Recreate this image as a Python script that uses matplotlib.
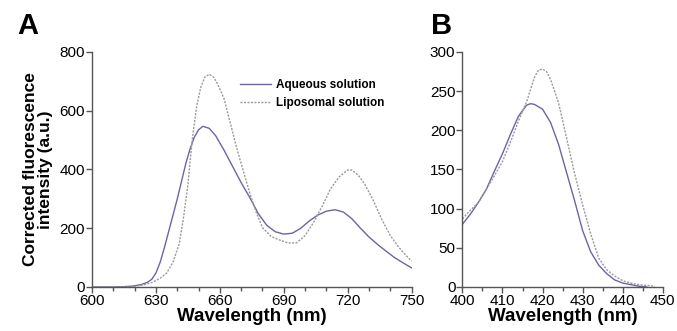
import numpy as np
import matplotlib.pyplot as plt
from matplotlib.ticker import MultipleLocator

plt.rcParams['font.family'] = ['Liberation Sans', 'DejaVu Sans']

# Panel A: emission spectra 600-750 nm
wl_a_aq = [600, 610, 615, 619, 623, 626, 628, 630, 632, 634, 636, 638, 640, 642, 644,
           646, 648, 650, 652, 655, 658, 662, 666, 670, 674, 678, 682, 686, 690, 694,
           698, 702, 706, 710, 714, 718, 722, 726, 730, 734, 738, 742, 746, 750]
aq_a = [0, 0, 1, 3, 8, 16, 26, 48, 85, 135, 190, 245, 300, 360, 420,
        470, 510, 535, 547, 540, 515, 465, 410, 355, 305, 250, 210, 188, 180, 183,
        200, 225, 245, 258, 263, 255, 232, 200, 170, 145, 122, 100, 82, 65]

wl_a_lip = [600, 615, 620, 624, 628, 632, 635, 638, 641, 643, 645, 647, 649, 651, 653,
            655, 657, 659, 662, 665, 668, 671, 674, 677, 680, 684, 688, 692, 696, 700,
            704, 708, 712, 716, 720, 722, 725, 728, 732, 736, 740, 744, 747, 750]
lip_a = [0, 0, 2, 7, 15, 30, 47, 85, 149, 240, 350, 500, 610, 680, 715,
         724, 715, 690, 640, 555, 470, 395, 320, 255, 202, 172, 160, 150, 150, 175,
         220, 275, 335, 375, 398, 398, 380, 350, 295, 230, 175, 135, 110, 88]

# Panel B: emission spectra 400-450 nm
wl_b_aq = [400, 402, 404, 406, 408, 410, 412, 414, 416, 417, 418, 420, 422, 424, 426,
           428, 430, 432, 434, 436, 438, 440, 442, 444, 446]
aq_b = [80, 93, 108, 125, 148, 170, 195, 218, 232, 234, 233, 227, 210, 182, 146,
        110, 72, 45, 28, 17, 9, 5, 3, 1, 0]

wl_b_lip = [400, 402, 404, 406, 408, 410, 412, 414, 416, 418, 419, 420, 421, 422, 424,
            426, 428, 430, 432, 434, 436, 438, 440, 442, 444, 446, 448]
lip_b = [87, 98, 108, 125, 142, 160, 185, 212, 236, 268, 277, 278, 275, 265, 235,
         190, 145, 105, 68, 37, 22, 14, 8, 5, 3, 2, 1]

aq_color = '#6b64a8'
lip_color = '#9a9a9a'
spine_color = '#555555'

fig = plt.figure(figsize=(6.77, 3.31), dpi=100)
axA = fig.add_axes([0.136, 0.133, 0.472, 0.710])
axB = fig.add_axes([0.683, 0.133, 0.296, 0.710])

axA.plot(wl_a_aq, aq_a, color=aq_color, lw=1.0, label='Aqueous solution')
axA.plot(wl_a_lip, lip_a, color=lip_color, lw=1.0, ls=(0, (1.5, 1)), label='Liposomal solution')
axB.plot(wl_b_aq, aq_b, color=aq_color, lw=1.0)
axB.plot(wl_b_lip, lip_b, color=lip_color, lw=1.0, ls=(0, (1.5, 1)))

axA.set_xlim(600, 750)
axA.set_ylim(0, 800)
axA.set_xticks(np.arange(600, 751, 30))
axA.xaxis.set_minor_locator(MultipleLocator(10))
axA.set_yticks(np.arange(0, 801, 200))

axB.set_xlim(400, 450)
axB.set_ylim(0, 300)
axB.set_xticks(np.arange(400, 451, 10))
axB.xaxis.set_minor_locator(MultipleLocator(5))
axB.set_yticks(np.arange(0, 301, 50))

for ax in (axA, axB):
    for s in ('top', 'right'):
        ax.spines[s].set_visible(False)
    for s in ('left', 'bottom'):
        ax.spines[s].set_color(spine_color)
        ax.spines[s].set_linewidth(1.0)
    ax.tick_params(which='major', length=4, width=1, color=spine_color, labelsize=11, pad=1)
    ax.tick_params(which='minor', length=3, width=1, color=spine_color)
    ax.set_xlabel('Wavelength (nm)', fontsize=13.5, fontweight='bold', labelpad=0)

axA.set_ylabel('Corrected fluorescence\nintensity (a.u.)', fontsize=12.5, fontweight='bold',
               labelpad=5, linespacing=1.0)

leg = axA.legend(loc='upper left', bbox_to_anchor=(0.43, 0.93), frameon=False,
                 fontsize=8.5, handlelength=2.6, handletextpad=0.4, labelspacing=0.5)
for t in leg.get_texts():
    t.set_fontweight('bold')

fig.text(0.026, 0.965, 'A', fontsize=21, fontweight='bold', va='top')
fig.text(0.637, 0.965, 'B', fontsize=21, fontweight='bold', va='top')

fig.savefig('out.png', dpi=100)
